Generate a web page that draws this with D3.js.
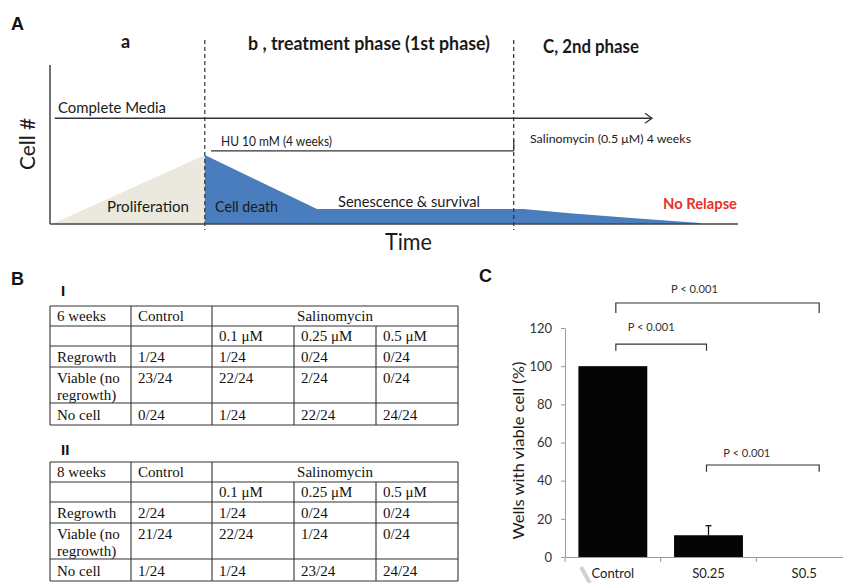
<!DOCTYPE html>
<html>
<head>
<meta charset="utf-8">
<script src="https://cdn.jsdelivr.net/npm/d3@7"></script>
<style>
body { margin: 0; background: #fff; }
svg { display: block; }
</style>
</head>
<body>
<div class="canvas"></div>
<script>
// ---- data ----
// A: schematic, arbitrary units (time 0-100, cell # 0-100)
const phaseNames = ['a', 'b , treatment phase (1st phase)', 'C, 2nd phase'];
const phaseBounds = [22.5, 67.4];
const proliferation = [[0.3, 0], [22.5, 43.4]];
const survival = [[22.5, 43.4], [38.8, 9.4], [68.8, 9.4], [76, 6.6], [85, 3.6], [94.5, 0.6]];
const mediaSpan = [0.7, 87.5, 66.5];   // from, to, level
const huSpan = [23.4, 67.4, 46];

// B: well counts
const doseCols = ['0.1 μM', '0.25 μM', '0.5 μM'];
const rowNames = [['Regrowth'], ['Viable (no', 'regrowth)'], ['No cell']];
const week6 = [
    ['1/24', '1/24', '0/24', '0/24'],
    ['23/24', '22/24', '2/24', '0/24'],
    ['0/24', '1/24', '22/24', '24/24']
];
const week8 = [
    ['2/24', '1/24', '0/24', '0/24'],
    ['21/24', '22/24', '1/24', '0/24'],
    ['1/24', '1/24', '23/24', '24/24']
];

// C: wells with viable cells
const groups = ['Control', 'S0.25', 'S0.5'];
const viable = [100, 11.4, 0];
const viableErr = [0, 5, 0];
const yTicks = [0, 20, 40, 60, 80, 100, 120];
const brackets = [
    { from: 'Control', to: 'S0.5', level: 133.1, drop: 5.2, labelAt: 138.4, text: 'P < 0.001' },
    { from: 'Control', to: 'S0.25', level: 111.6, drop: 3.5, labelAt: 118.6, text: 'P < 0.001' },
    { from: 'S0.25', to: 'S0.5', level: 48.2, drop: 3.5, labelAt: 52.6, text: 'P < 0.001' }
];

const sans = 'Lato, "Open Sans", sans-serif';
const serif = '"Liberation Serif", "Times New Roman", serif';
const ink = '#1a1a1a';

const svg = d3.select('.canvas').append('svg')
    .attr('width', 843)
    .attr('height', 583)
    .style('background', '#fff');

// panel letters
[['A', 11, 30], ['B', 11, 285], ['C', 479, 282]].forEach(p => {
    svg.append('text')
        .attr('x', p[1])
        .attr('y', p[2])
        .text(p[0])
        .style('font-family', '"Liberation Sans", Arial, sans-serif')
        .attr('font-size', 18)
        .attr('font-weight', 'bold')
        .attr('fill', '#111');
});

// ---- panel A ----
const xA = d3.scaleLinear().domain([0, 100]).range([50, 738]);
const yA = d3.scaleLinear().domain([0, 100]).range([224, 65]);
const gA = svg.append('g');

const area = d3.area()
    .x(d => xA(d[0]))
    .y0(yA(0))
    .y1(d => yA(d[1]));

gA.append('path').datum(proliferation)
    .attr('d', area)
    .attr('fill', '#ebe8de');
gA.append('path').datum(survival)
    .attr('d', area)
    .attr('fill', '#4a7dbd');

// axes
gA.append('line')
    .attr('x1', xA(0)).attr('y1', yA(0))
    .attr('x2', xA(100)).attr('y2', yA(0))
    .attr('stroke', '#444').attr('stroke-width', 1.5);
gA.append('line')
    .attr('x1', xA(0)).attr('y1', yA(0))
    .attr('x2', xA(0)).attr('y2', yA(100))
    .attr('stroke', '#444').attr('stroke-width', 1.5);

// phase borders
phaseBounds.forEach(t => {
    gA.append('line')
        .attr('x1', xA(t)).attr('x2', xA(t))
        .attr('y1', 40).attr('y2', 230)
        .attr('stroke', '#333')
        .attr('stroke-width', 1.2)
        .attr('stroke-dasharray', '4,3');
});

// complete media arrow
const my = yA(mediaSpan[2]);
const mx = xA(mediaSpan[1]);
gA.append('line')
    .attr('x1', xA(mediaSpan[0])).attr('x2', mx)
    .attr('y1', my).attr('y2', my)
    .attr('stroke', '#333').attr('stroke-width', 1.3);
gA.append('path')
    .attr('d', `M${mx - 7},${my - 5}L${mx},${my}L${mx - 7},${my + 5}`)
    .attr('fill', 'none')
    .attr('stroke', '#333').attr('stroke-width', 1.3);

// HU bar
const hy = yA(huSpan[2]);
gA.append('line')
    .attr('x1', xA(huSpan[0])).attr('x2', xA(huSpan[1]))
    .attr('y1', hy).attr('y2', hy)
    .attr('stroke', '#333').attr('stroke-width', 1.3);
gA.append('line')
    .attr('x1', xA(huSpan[1])).attr('x2', xA(huSpan[1]))
    .attr('y1', hy).attr('y2', hy - 11)
    .attr('stroke', '#333').attr('stroke-width', 1.3);

function label(g, str, x, y, size, width, opts = {}) {
    const t = g.append('text')
        .attr('x', x)
        .attr('y', y)
        .text(str)
        .style('font-family', opts.family || sans)
        .attr('font-size', size)
        .attr('font-weight', opts.bold ? 'bold' : 'normal')
        .attr('fill', opts.fill || ink)
        .attr('text-anchor', opts.anchor || 'start');
    if (width) t.attr('textLength', width).attr('lengthAdjust', 'spacingAndGlyphs');
    return t;
}

label(gA, phaseNames[0], 121, 48, 18, null, { bold: true });
label(gA, phaseNames[1], 248, 50, 18, 242, { bold: true });
label(gA, phaseNames[2], 543, 53, 18, 96, { bold: true });
label(gA, 'Complete Media', 58, 113, 15, 108);
label(gA, 'HU 10 mM (4 weeks)', 221, 146, 13, 111);
label(gA, 'Salinomycin (0.5 μM) 4 weeks', 530, 143, 12, 161);
label(gA, 'Proliferation', 107, 212, 16, 82);
label(gA, 'Cell death', 215, 212, 16, 63);
label(gA, 'Senescence & survival', 338, 206.5, 16, 142);
label(gA, 'No Relapse', 663, 209, 15, 74, { bold: true, fill: '#e53228' });
label(gA, 'Time', 385, 250, 24, 47);
gA.append('text')
    .attr('transform', 'translate(35, 144) rotate(-90)')
    .attr('text-anchor', 'middle')
    .text('Cell #')
    .style('font-family', sans)
    .attr('font-size', 21)
    .attr('textLength', 52)
    .attr('lengthAdjust', 'spacingAndGlyphs')
    .attr('fill', ink);

// ---- panel B ----
const colEdges = [50, 131, 212, 294, 376, 458];
const rowEdges = [0, 20, 40, 61, 97, 119];

function drawTable(top, roman, romanY, head, cells) {
    const g = svg.append('g');
    const ys = rowEdges.map(d => top + d);
    label(g, roman, 61, romanY, 15, null, { bold: true, family: '"Liberation Sans", Arial, sans-serif', fill: '#111' });

    ys.forEach(y => {
        g.append('line')
            .attr('x1', colEdges[0]).attr('x2', colEdges[5])
            .attr('y1', y).attr('y2', y)
            .attr('stroke', '#333').attr('stroke-width', 1.1);
    });
    colEdges.forEach((x, i) => {
        g.append('line')
            .attr('x1', x).attr('x2', x)
            .attr('y1', (i === 3 || i === 4) ? ys[1] : ys[0])
            .attr('y2', ys[5])
            .attr('stroke', '#333').attr('stroke-width', 1.1);
    });

    const opt = { family: serif, fill: '#111' };
    const pad = 7;
    label(g, head, colEdges[0] + pad, ys[1] - 5, 15, null, opt);
    label(g, 'Control', colEdges[1] + pad, ys[1] - 5, 15, null, opt);
    label(g, 'Salinomycin', (colEdges[2] + colEdges[5]) / 2, ys[1] - 5, 15, null,
        Object.assign({ anchor: 'middle' }, opt));
    doseCols.forEach((d, i) => {
        label(g, d, colEdges[i + 2] + pad, ys[2] - 5, 15, null, opt);
    });
    rowNames.forEach((names, r) => {
        const base = names.length > 1 ? ys[r + 2] + 16 : ys[r + 3] - 5;
        names.forEach((n, k) => {
            label(g, n, colEdges[0] + pad, base + k * 16.5, 15, null, opt);
        });
        cells[r].forEach((v, c) => {
            label(g, v, colEdges[c + 1] + pad, base, 15, null, opt);
        });
    });
}

drawTable(306, 'I', 296, '6 weeks', week6);
drawTable(462, 'II', 455, '8 weeks', week8);

// ---- panel C ----
const xC = d3.scaleBand().domain(groups).range([565, 852]).padding(0);
const yC = d3.scaleLinear().domain([0, 120]).range([557, 328]);
const gC = svg.append('g');
const axisGrey = '#9a9a9a';

const yAxis = gC.append('g')
    .attr('transform', `translate(${xC.range()[0]}, 0)`)
    .call(d3.axisLeft(yC).tickValues(yTicks).tickSize(4).tickSizeOuter(0).tickPadding(9));
yAxis.select('.domain').attr('stroke', axisGrey);
yAxis.selectAll('.tick line').attr('stroke', axisGrey);
yAxis.selectAll('.tick text')
    .style('font-family', sans)
    .attr('font-size', 13)
    .attr('fill', '#333');

const xAxis = gC.append('g')
    .attr('transform', `translate(0, ${yC(0)})`)
    .call(d3.axisBottom(xC).tickSize(0).tickSizeOuter(0));
xAxis.select('.domain').attr('stroke', axisGrey);
xAxis.selectAll('.tick text')
    .attr('y', 21)
    .attr('dy', null)
    .style('font-family', sans)
    .attr('font-size', 13)
    .attr('fill', '#222');
// category boundary ticks
gC.selectAll('.bound')
    .data(groups)
    .join('line')
    .attr('x1', d => xC(d)).attr('x2', d => xC(d))
    .attr('y1', yC(0)).attr('y2', yC(0) + 5)
    .attr('stroke', axisGrey);

// faint diagonal stroke below the axis
gC.append('line')
    .attr('x1', 581).attr('y1', 567)
    .attr('x2', 590).attr('y2', 583)
    .attr('stroke', '#d2d2d2')
    .attr('stroke-width', 4);

const barW = xC.bandwidth() * 0.72;
gC.selectAll('.bar')
    .data(groups)
    .join('rect')
    .attr('x', d => xC(d) + (xC.bandwidth() - barW) / 2)
    .attr('width', barW)
    .attr('y', (d, i) => yC(viable[i]))
    .attr('height', (d, i) => yC(0) - yC(viable[i]))
    .attr('fill', '#050505');

groups.forEach((g, i) => {
    if (!viableErr[i]) return;
    const cx = xC(g) + xC.bandwidth() / 2;
    gC.append('line')
        .attr('x1', cx).attr('x2', cx)
        .attr('y1', yC(viable[i])).attr('y2', yC(viable[i] + viableErr[i]))
        .attr('stroke', '#111').attr('stroke-width', 1.3);
    gC.append('line')
        .attr('x1', cx - 3).attr('x2', cx + 3)
        .attr('y1', yC(viable[i] + viableErr[i])).attr('y2', yC(viable[i] + viableErr[i]))
        .attr('stroke', '#111').attr('stroke-width', 1.3);
});

gC.append('text')
    .attr('transform', `translate(524, ${(yC(0) + yC(120)) / 2 + 8}) rotate(-90)`)
    .attr('text-anchor', 'middle')
    .text('Wells with viable cell (%)')
    .style('font-family', sans)
    .attr('font-size', 16)
    .attr('textLength', 178)
    .attr('lengthAdjust', 'spacingAndGlyphs')
    .attr('fill', ink);

// significance brackets
const endShift = { 'Control': 3, 'S0.25': -2, 'S0.5': 15 };
const labelDx = [-23, -10, -16];
brackets.forEach((b, i) => {
    const x1 = xC(b.from) + xC.bandwidth() / 2 + endShift[b.from];
    const x2 = xC(b.to) + xC.bandwidth() / 2 + endShift[b.to];
    const y = yC(b.level);
    const yEnd = yC(b.level - b.drop);
    gC.append('path')
        .attr('d', `M${x1},${yEnd}V${y}H${x2}V${yEnd}`)
        .attr('fill', 'none')
        .attr('stroke', '#333')
        .attr('stroke-width', 1.2);
    label(gC, b.text, (x1 + x2) / 2 + labelDx[i], yC(b.labelAt), 11.5, 47, { anchor: 'middle', fill: '#333' });
});
</script>
</body>
</html>
